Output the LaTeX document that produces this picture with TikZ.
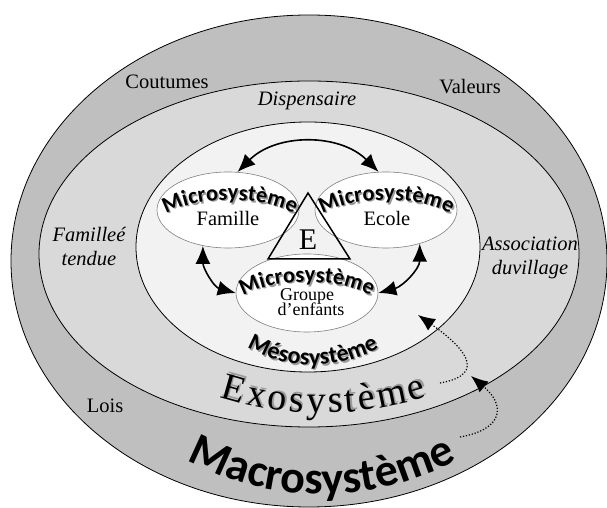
\documentclass[tikz,border=0pt]{standalone}
\usepackage{fontspec}
\setmainfont{Liberation Serif}
\newfontfamily\sysfont{Carlito}
\usetikzlibrary{arrows.meta, shapes.geometric, decorations.text}

\definecolor{macrogray}{HTML}{BFBFBF}
\definecolor{exogray}{HTML}{D9D9D9}
\definecolor{mesogray}{HTML}{F2F2F2}
\definecolor{shade}{HTML}{9A9A9A}

\newcommand{\microfont}{\sysfont\bfseries\fontsize{22.5}{22.5}\selectfont}
\newcommand{\mesofont}{\sysfont\bfseries\fontsize{24}{24}\selectfont}
\newcommand{\exofnt}{\fontsize{38}{38}\selectfont\kern3pt}
\newcommand{\macrofont}{\sysfont\bfseries\fontsize{46}{46}\selectfont}

\begin{document}
\begin{tikzpicture}[
  x=1pt, y=1pt,
  ring/.style={ellipse, draw, line width=0.8pt, inner sep=0pt},
  micro/.style={ellipse, draw=black!50, line width=0.6pt, fill=white, inner sep=0pt, minimum width=142pt, minimum height=76pt},
  word/.style={font=\fontsize{20.5}{24}\selectfont, align=center, inner sep=0pt},
  biarrow/.style={draw, line width=1.6pt, {Latex[length=18pt,width=15pt]}-{Latex[length=18pt,width=15pt]}},
  dotarrow/.style={draw, line width=1.2pt, dash pattern=on 1.2pt off 1.8pt, looseness=1.85, -{Latex[length=17pt,width=14pt]}},
  arctext/.style 2 args={decorate, decoration={text along path, text align=center, text={|#1|#2}}}
  ]
\useasboundingbox (0,0) rectangle (607,508);

% Rings
\node[ring, fill=macrogray, minimum width=596pt, minimum height=492pt] (macro) at (309,247) {};
\node[ring, fill=exogray, minimum width=540pt, minimum height=346pt] (exo) at (309,254) {};
\node[ring, fill=mesogray, minimum width=344pt, minimum height=250pt] (meso) at (308,261) {};

% Microsystems
\node[micro] (famille) at (228,298) {};
\node[micro] (ecole) at (386,298) {};
\node[micro, minimum height=78pt] (groupe) at (307,215) {};
\draw[line width=1.5pt] (308,315) -- (268,249) -- (350,249) -- cycle;
\node[font=\fontsize{30}{30}\selectfont, anchor=base, inner sep=0pt] (elabel) at (308,258) {E};

\node[word, anchor=base] (famtxt) at (228,282) {Famille};
\node[word, anchor=base] (ecotxt) at (387,282) {Ecole};
\node[word, font=\fontsize{18}{15}\selectfont, anchor=base] (grptxt) at (307,207) {Groupe};
\node[word, font=\fontsize{18}{15}\selectfont, anchor=base] (enftxt) at (311,192) {d’enfants};

% Ring labels
\node[word, anchor=base] (coutumes) at (167,419) {Coutumes};
\node[word, anchor=base] (valeurs) at (470,414) {Valeurs};
\node[word, anchor=base] (lois) at (105,95) {Lois};
\node[word, anchor=base] (dispens) at (307,402) {\itshape Dispensaire};
\node[word] (famext) at (89,261) {\itshape Familleé\\ \itshape tendue};
\node[word] (assoc) at (530,250) {\itshape Association\\ \itshape duvillage};

% Curved titles
\path[arctext={\microfont\color{shade}}{Microsystème}] ([shift={(150:75 and 30)}]231.5,276.5) arc[start angle=150, end angle=30, x radius=75, y radius=30];
\path[arctext={\microfont}{Microsystème}] ([shift={(150:75 and 30)}]230,278) arc[start angle=150, end angle=30, x radius=75, y radius=30];
\path[arctext={\microfont\color{shade}}{Microsystème}] ([shift={(150:75 and 30)}]388,276.5) arc[start angle=150, end angle=30, x radius=75, y radius=30];
\path[arctext={\microfont}{Microsystème}] ([shift={(150:75 and 30)}]386.5,278) arc[start angle=150, end angle=30, x radius=75, y radius=30];
\path[arctext={\microfont\color{shade}}{Microsystème}] ([shift={(150:75 and 30)}]308.5,194.5) arc[start angle=150, end angle=30, x radius=75, y radius=30];
\path[arctext={\microfont}{Microsystème}] ([shift={(150:75 and 30)}]307,196) arc[start angle=150, end angle=30, x radius=75, y radius=30];

\path[arctext={\mesofont\color{shade}}{Mésosystème}] ([shift={(235:133)}]314.5,274.5) arc[start angle=235, end angle=305, radius=133];
\path[arctext={\mesofont}{Mésosystème}] ([shift={(235:133)}]313,276) arc[start angle=235, end angle=305, radius=133];
\path[arctext={\exofnt\color{shade}}{Exosystème}] ([shift={(248:340)}]323.5,436.5) arc[start angle=248, end angle=292, radius=340];
\path[arctext={\exofnt}{Exosystème}] ([shift={(248:340)}]322,435) arc[start angle=248, end angle=292, radius=340];
\path[arctext={\macrofont}{Macrosystème}] ([shift={(240:283)}]322,297) arc[start angle=240, end angle=300, radius=283];

% Edges
\path[biarrow] (famille.76) to[bend left=45] (ecole.101);
\path[biarrow] (famille.235) to[out=270, in=165] (groupe.west);
\path[biarrow] (ecole.-45) to[out=270, in=15] (groupe.east);

\coordinate (exoend) at (440,125);
\coordinate (mesotip) at (418,193);
\coordinate (macroend) at (460,71);
\coordinate (exotip) at (471,132);
\path[dotarrow] (exoend) to[out=10, in=-35] (mesotip);
\path[dotarrow] (macroend) to[out=10, in=-40] (exotip);

\end{tikzpicture}
\end{document}
